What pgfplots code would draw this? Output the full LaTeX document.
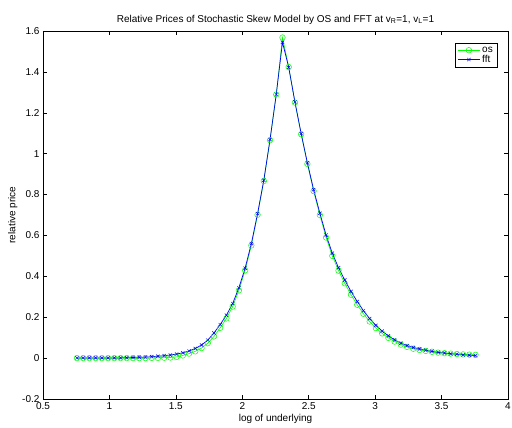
\documentclass[border=0pt]{standalone}
\usepackage{pgfplots}
\pgfplotsset{compat=1.18}
\usepackage{pgfplotstable}
\usepackage{fontspec}
\setmainfont{Liberation Sans}
\pgfplotstableread{
x os fft
0.7557 0.000 0.001
0.8026 0.000 0.001
0.8494 0.000 0.001
0.8963 0.000 0.001
0.9432 0.000 0.001
0.9901 0.000 0.001
1.0369 0.000 0.001
1.0838 0.000 0.001
1.1307 0.000 0.002
1.1776 0.000 0.003
1.2244 0.000 0.004
1.2713 0.000 0.005
1.3182 0.001 0.007
1.3651 0.001 0.009
1.4119 0.002 0.012
1.4588 0.003 0.015
1.5057 0.006 0.020
1.5526 0.013 0.026
1.5994 0.022 0.035
1.6463 0.033 0.047
1.6932 0.049 0.064
1.7401 0.073 0.088
1.7869 0.106 0.123
1.8338 0.148 0.164
1.8807 0.194 0.210
1.9276 0.252 0.267
1.9744 0.331 0.344
2.0213 0.429 0.440
2.0682 0.551 0.560
2.1151 0.701 0.707
2.1619 0.866 0.870
2.2088 1.066 1.069
2.2557 1.289 1.290
2.3026 1.568 1.545
2.3494 1.424 1.422
2.3963 1.250 1.253
2.4432 1.095 1.098
2.4901 0.950 0.955
2.5369 0.817 0.824
2.5838 0.700 0.709
2.6307 0.590 0.602
2.6776 0.500 0.513
2.7244 0.428 0.442
2.7713 0.366 0.382
2.8182 0.310 0.326
2.8651 0.261 0.277
2.9119 0.217 0.232
2.9588 0.179 0.193
3.0057 0.147 0.160
3.0526 0.121 0.132
3.0994 0.099 0.109
3.1463 0.081 0.089
3.1932 0.066 0.073
3.2401 0.055 0.061
3.2869 0.046 0.052
3.3338 0.040 0.045
3.3807 0.035 0.039
3.4276 0.031 0.033
3.4744 0.027 0.028
3.5213 0.024 0.025
3.5682 0.022 0.021
3.6151 0.020 0.019
3.6619 0.018 0.016
3.7088 0.017 0.014
3.7557 0.016 0.012
}\datatable
\definecolor{mgreen}{rgb}{0,1,0}
\definecolor{mblue}{rgb}{0,0,1}
\begin{document}
\begin{tikzpicture}
\begin{axis}[
  scale only axis,
  width=465pt, height=368pt,
  xmin=0.5, xmax=4, ymin=-0.2, ymax=1.6,
  xtick={0.5,1,...,4}, ytick={-0.2,0,0.2,0.4,0.6,0.8,1,1.2,1.4,1.6},
  tick align=inside, tick pos=both,
  major tick length=4pt,
  axis line style={line width=0.5pt},
  tick style={line width=0.5pt, black},
  /pgf/number format/assume math mode=true,
  tick label style={font=\fontsize{10}{12}\selectfont},
  label style={font=\fontsize{10}{12}\selectfont},
  title style={font=\fontsize{10}{12}\selectfont, yshift=-3pt},
  title={Relative Prices of Stochastic Skew Model by OS and FFT at v$_{\mathrm{R}}$=1, v$_{\mathrm{L}}$=1},
  xlabel={log of underlying},
  ylabel={relative price},
  xlabel style={yshift=2pt},
  ylabel style={yshift=-2pt},
  legend pos=north east,
  legend style={font=\fontsize{10}{12}\selectfont, draw=black, line width=0.5pt, inner xsep=2pt, inner ysep=1.5pt, row sep=-2.5pt, xshift=3pt, yshift=-1pt},
  legend cell align=left,
  legend image code/.code={\draw[mark repeat=2,mark phase=2] plot coordinates {(0pt,0pt) (11pt,0pt) (22pt,0pt)};},
]
\addplot[mgreen, line width=0.6pt, mark=o, mark size=2.8pt, mark options={solid, line width=0.5pt}] table[x=x, y=os] {\datatable};
\addlegendentry{os}
\addplot[mblue, line width=0.7pt, mark=x, mark size=2.3pt, mark options={solid, line width=0.5pt}] table[x=x, y=fft] {\datatable};
\addlegendentry{fft}
\end{axis}
\pgfresetboundingbox
\path (-43pt,-29pt) rectangle (469pt,399pt);
\end{tikzpicture}
\end{document}
